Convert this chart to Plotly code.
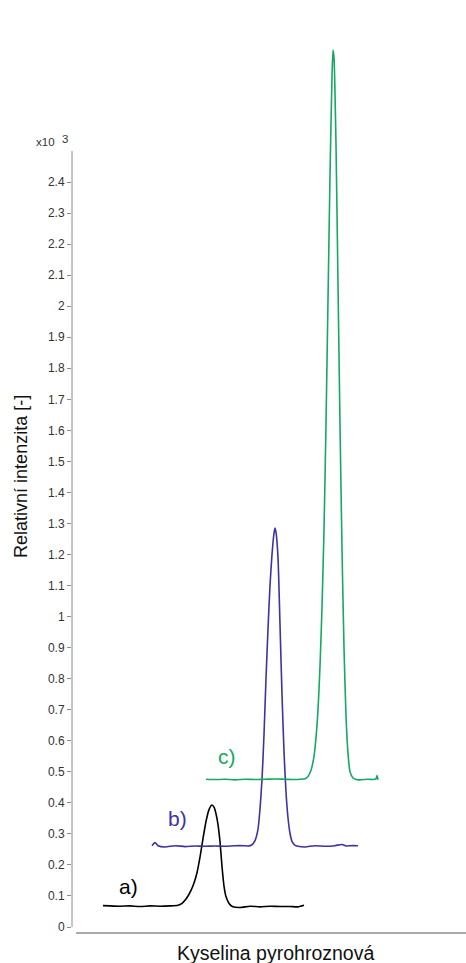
import plotly.graph_objects as go

# Retention time (min) and relative intensity (x10^3) for the three records
time_a = [1.03, 1.10, 1.20, 1.30, 1.40, 1.50, 1.60, 1.70, 1.78, 1.82, 1.85, 1.88, 1.91, 1.94,
          1.97, 2.00, 2.03, 2.06, 2.09, 2.12, 2.14, 2.16, 2.18, 2.20, 2.22, 2.24, 2.26,
          2.28, 2.30, 2.33, 2.40, 2.50, 2.60, 2.70, 2.80, 2.90, 2.98, 3.04]
int_a = [0.069, 0.068, 0.067, 0.068, 0.066, 0.068, 0.067, 0.068, 0.070, 0.076, 0.086, 0.100,
         0.118, 0.142, 0.175, 0.225, 0.285, 0.340, 0.378, 0.393, 0.386, 0.365, 0.330, 0.275,
         0.195, 0.132, 0.098, 0.082, 0.072, 0.065, 0.063, 0.067, 0.065, 0.067, 0.066,
         0.066, 0.065, 0.070]

time_b = [1.52, 1.55, 1.58, 1.65, 1.75, 1.85, 1.95, 2.05, 2.15, 2.25, 2.35, 2.44, 2.48, 2.52,
          2.55, 2.58, 2.60, 2.62, 2.64, 2.66, 2.68, 2.70, 2.72, 2.74, 2.75, 2.76, 2.78, 2.80,
          2.82, 2.84, 2.86, 2.88, 2.90, 2.92, 2.95, 2.98, 3.05, 3.15, 3.25, 3.35, 3.42, 3.46,
          3.50, 3.58]
int_b = [0.262, 0.272, 0.262, 0.258, 0.262, 0.259, 0.261, 0.260, 0.261, 0.260, 0.262, 0.262,
         0.261, 0.265, 0.278, 0.315, 0.380, 0.475, 0.620, 0.800, 0.960, 1.100, 1.200, 1.268,
         1.285, 1.272, 1.190, 0.975, 0.750, 0.565, 0.435, 0.352, 0.302, 0.276, 0.263, 0.260,
         0.258, 0.262, 0.260, 0.262, 0.266, 0.261, 0.262, 0.262]

time_c = [2.06, 2.15, 2.25, 2.35, 2.45, 2.55, 2.65, 2.75, 2.85, 2.95, 3.00, 3.05, 3.08, 3.11,
          3.14, 3.16, 3.18, 3.20, 3.22, 3.24, 3.26, 3.28, 3.30, 3.32, 3.33, 3.34, 3.36, 3.38,
          3.40, 3.42, 3.44, 3.46, 3.48, 3.50, 3.53, 3.58, 3.63, 3.68, 3.73, 3.76, 3.77, 3.78]
int_c = [0.476, 0.475, 0.476, 0.474, 0.476, 0.475, 0.476, 0.477, 0.476, 0.475, 0.476, 0.478,
         0.485, 0.505, 0.550, 0.610, 0.700, 0.840, 1.030, 1.280, 1.620, 2.020, 2.420, 2.740,
         2.825, 2.800, 2.520, 2.070, 1.620, 1.220, 0.900, 0.680, 0.560, 0.500, 0.480, 0.474,
         0.475, 0.476, 0.475, 0.477, 0.488, 0.474]

series_names = ["a)", "b)", "c)"]
series_colors = ["#000000", "#3d33a3", "#16a864"]
label_pos_time = [1.285, 1.77, 2.27]
label_pos_int = [0.132, 0.348, 0.548]

tick_values = [i / 10 for i in range(25)]
tick_labels = ["0", "0.1", "0.2", "0.3", "0.4", "0.5", "0.6", "0.7", "0.8", "0.9",
               "1", "1.1", "1.2", "1.3", "1.4", "1.5", "1.6", "1.7", "1.8", "1.9",
               "2", "2.1", "2.2", "2.3", "2.4"]
axis_top = 2.5

FONT = "Liberation Sans, Arial, sans-serif"

fig = go.Figure()
for t, y, name, color in zip([time_a, time_b, time_c], [int_a, int_b, int_c],
                             series_names, series_colors):
    fig.add_trace(go.Scatter(
        x=t, y=y, mode="lines", name=name,
        line=dict(color=color, width=1.6, shape="spline", smoothing=0.6),
        showlegend=False, hoverinfo="skip",
    ))

for name, color, tx, ty in zip(series_names, series_colors, label_pos_time, label_pos_int):
    fig.add_annotation(x=tx, y=ty, xref="x", yref="y", text=name, showarrow=False,
                       font=dict(family=FONT, size=21, color=color),
                       xanchor="center", yanchor="middle")

# vertical axis line, running from 0 up to the top of the scale
fig.add_shape(type="line", xref="paper", yref="y", x0=0, x1=0, y0=0, y1=axis_top,
              line=dict(color="#8c8c8c", width=1))
# horizontal axis line, slightly below zero and detached from the vertical one
fig.add_shape(type="line", xref="paper", yref="paper", x0=0.0102, x1=1, y0=0, y1=0,
              line=dict(color="#555555", width=1))

# scale multiplier above the vertical axis
fig.add_annotation(xref="paper", yref="paper", x=0, y=(933 - 142) / 893, xshift=-27,
                   text="x10", showarrow=False, xanchor="center", yanchor="middle",
                   font=dict(family=FONT, size=11.5, color="#333333"))
fig.add_annotation(xref="paper", yref="paper", x=0, y=(933 - 138.5) / 893, xshift=-7.5,
                   text="3", showarrow=False, xanchor="center", yanchor="middle",
                   font=dict(family=FONT, size=11.5, color="#333333"))

# axis titles
fig.add_annotation(xref="paper", yref="y", x=0, y=1.45, xshift=-51, textangle=-90,
                   text="Relativní intenzita [-]", showarrow=False,
                   xanchor="center", yanchor="middle",
                   font=dict(family=FONT, size=18, color="#111111"))
fig.add_annotation(xref="paper", yref="paper", x=(275 - 72) / 394, y=0, yshift=-20,
                   text="Kyselina pyrohroznová", showarrow=False,
                   xanchor="center", yanchor="middle",
                   font=dict(family=FONT, size=19.5, color="#111111"))

fig.update_xaxes(range=[0.72, 4.66], showline=False, showgrid=False, zeroline=False,
                 showticklabels=False, ticks="")
fig.update_yaxes(range=[-0.0193, 2.8576], showline=False, showgrid=False, zeroline=False,
                 tickmode="array", tickvals=tick_values, ticktext=tick_labels,
                 ticks="outside", ticklen=4, tickwidth=1, tickcolor="#8c8c8c",
                 tickfont=dict(family=FONT, size=12, color="#333333"))

fig.update_layout(
    width=466, height=963,
    margin=dict(l=72, r=0, t=40, b=30),
    paper_bgcolor="white", plot_bgcolor="white",
)

fig.write_html("out.html")
